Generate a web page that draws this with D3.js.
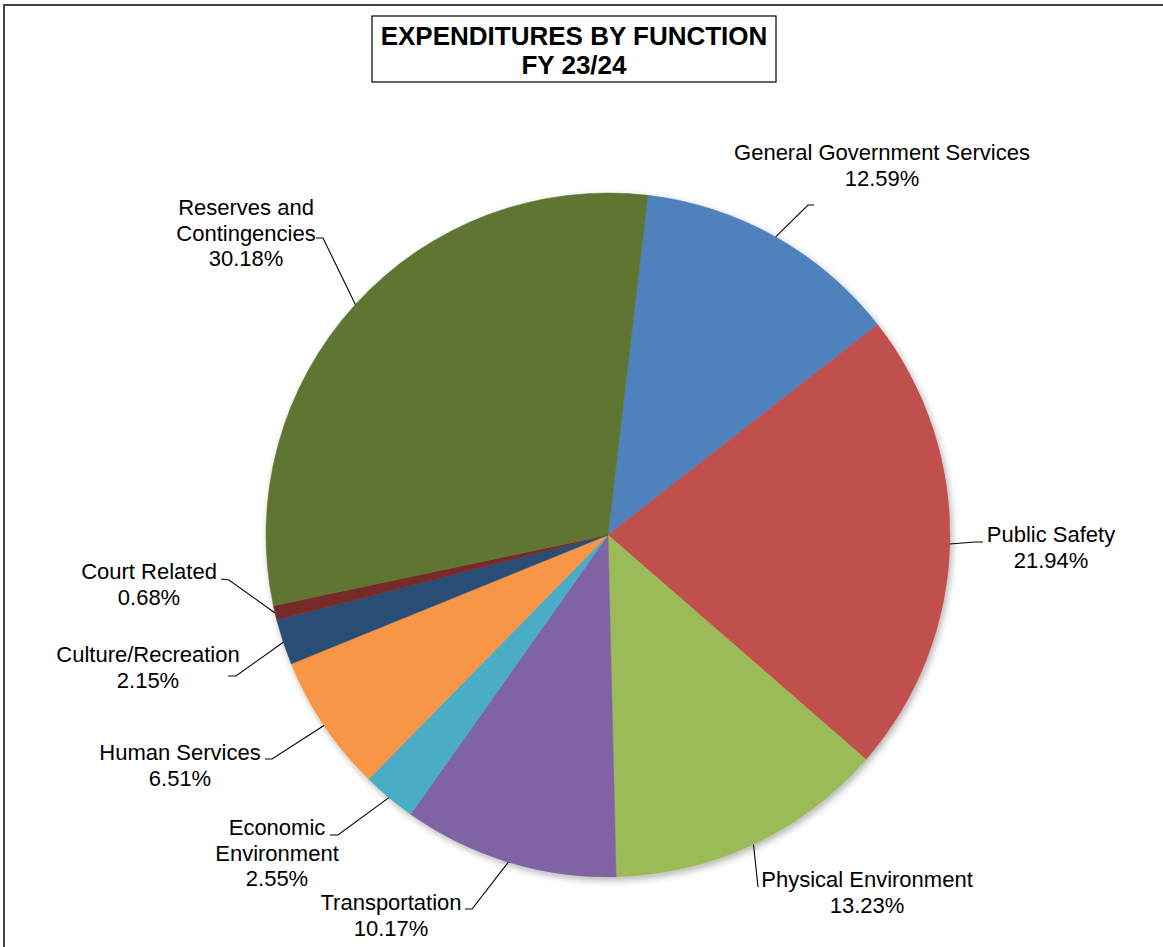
<!DOCTYPE html>
<html>
<head>
<meta charset="utf-8">
<script src="https://cdn.jsdelivr.net/npm/d3@7"></script>
<style>
  html, body { margin: 0; padding: 0; background: #ffffff; }
  svg { display: block; }
  text { font-family: "Liberation Sans", Arial, sans-serif; fill: #000; }
</style>
</head>
<body>
<svg id="chart" width="1163" height="947"></svg>
<script>
// Budget shares by function, FY 23/24 (percent of total expenditures)
const categories = [
  "General Government Services",
  "Public Safety",
  "Physical Environment",
  "Transportation",
  "Economic Environment",
  "Human Services",
  "Culture/Recreation",
  "Court Related",
  "Reserves and Contingencies"
];
const values = [12.59, 21.94, 13.23, 10.17, 2.55, 6.51, 2.15, 0.68, 30.18];
const colors = ["#4F81BD", "#C0504D", "#9BBB59", "#8064A2", "#4BACC6",
                "#F79646", "#2C4D75", "#772C2A", "#5F7530"];
// Label text lines (category name broken the way it is printed)
const labelLines = [
  ["General Government Services"],
  ["Public Safety"],
  ["Physical Environment"],
  ["Transportation"],
  ["Economic", "Environment"],
  ["Human Services"],
  ["Culture/Recreation"],
  ["Court Related"],
  ["Reserves and", "Contingencies"]
];
const titleLines = ["EXPENDITURES BY FUNCTION", "FY 23/24"];

// Label placement: text centre x, first baseline y, leader elbow and leader end
const labelLayout = [
  { x: 882,  y: 160, elbow: [808, 205], end: [814, 205] },
  { x: 1051, y: 542, elbow: [975, 542], end: [983, 542] },
  { x: 867,  y: 887, elbow: [758, 887], end: [758, 887] },
  { x: 391,  y: 910, elbow: [472, 909], end: [465, 909] },
  { x: 277,  y: 835, elbow: [338, 835], end: [330, 835] },
  { x: 180,  y: 760, elbow: [272, 759], end: [265, 759] },
  { x: 148,  y: 662, elbow: [236, 676], end: [228, 676] },
  { x: 149,  y: 579, elbow: [229, 580], end: [221, 579] },
  { x: 246,  y: 215, elbow: [323, 238], end: [316, 238] }
];

const svg = d3.select("#chart");
const W = 1163, H = 947;

// Outer chart-area frame
svg.append("rect")
  .attr("x", 4).attr("y", 5)
  .attr("width", W + 10).attr("height", H + 10)
  .attr("fill", "none").attr("stroke", "#404040").attr("stroke-width", 2);

// Title box
const title = svg.append("g");
title.append("rect")
  .attr("x", 372).attr("y", 16).attr("width", 404).attr("height", 66)
  .attr("fill", "#fff").attr("stroke", "#000").attr("stroke-width", 1.2);
title.selectAll("text").data(titleLines).join("text")
  .attr("x", 574).attr("y", (d, i) => 45 + i * 29)
  .attr("text-anchor", "middle")
  .style("font-size", "26px").style("font-weight", "bold")
  .text(d => d);

// Soft shadow under the pie
const defs = svg.append("defs");
const f = defs.append("filter").attr("id", "pieShadow")
  .attr("x", "-10%").attr("y", "-10%").attr("width", "120%").attr("height", "120%");
f.append("feDropShadow").attr("dx", 2).attr("dy", 3).attr("stdDeviation", 3.5)
  .attr("flood-color", "#000").attr("flood-opacity", 0.3);

const cx = 608, cy = 535, R = 342;
const startAngle = 6.7 * Math.PI / 180;

const data = categories.map((c, i) => ({ name: c, value: values[i], color: colors[i], i }));
const pie = d3.pie().value(d => d.value).sort(null)
  .startAngle(startAngle).endAngle(startAngle + 2 * Math.PI);
const arcs = pie(data);
const arc = d3.arc().innerRadius(0).outerRadius(R);

const g = svg.append("g").attr("transform", `translate(${cx},${cy})`);
g.append("g").attr("filter", "url(#pieShadow)")
  .selectAll("path").data(arcs).join("path")
  .attr("d", arc)
  .attr("fill", d => d.data.color)
  .attr("stroke", d => d.data.color)
  .attr("stroke-width", 0.5);

// Leader lines from the slice edge to each label
const edgePoint = a => {
  const m = (a.startAngle + a.endAngle) / 2;
  return [cx + R * Math.sin(m), cy - R * Math.cos(m)];
};
svg.append("g").selectAll("polyline").data(arcs).join("polyline")
  .attr("points", d => {
    const L = labelLayout[d.data.i];
    return [edgePoint(d), L.elbow, L.end].map(p => p.join(",")).join(" ");
  })
  .attr("fill", "none").attr("stroke", "#000").attr("stroke-width", 1.1);

// Category and percentage labels
const labels = svg.append("g").selectAll("text").data(arcs).join("text")
  .attr("text-anchor", "middle")
  .style("font-size", "22px");
labels.each(function (d) {
  const L = labelLayout[d.data.i];
  const lines = labelLines[d.data.i].concat([d.data.value.toFixed(2) + "%"]);
  d3.select(this).selectAll("tspan").data(lines).join("tspan")
    .attr("x", L.x).attr("y", (t, k) => L.y + k * 25.5)
    .text(t => t);
});
</script>
</body>
</html>
